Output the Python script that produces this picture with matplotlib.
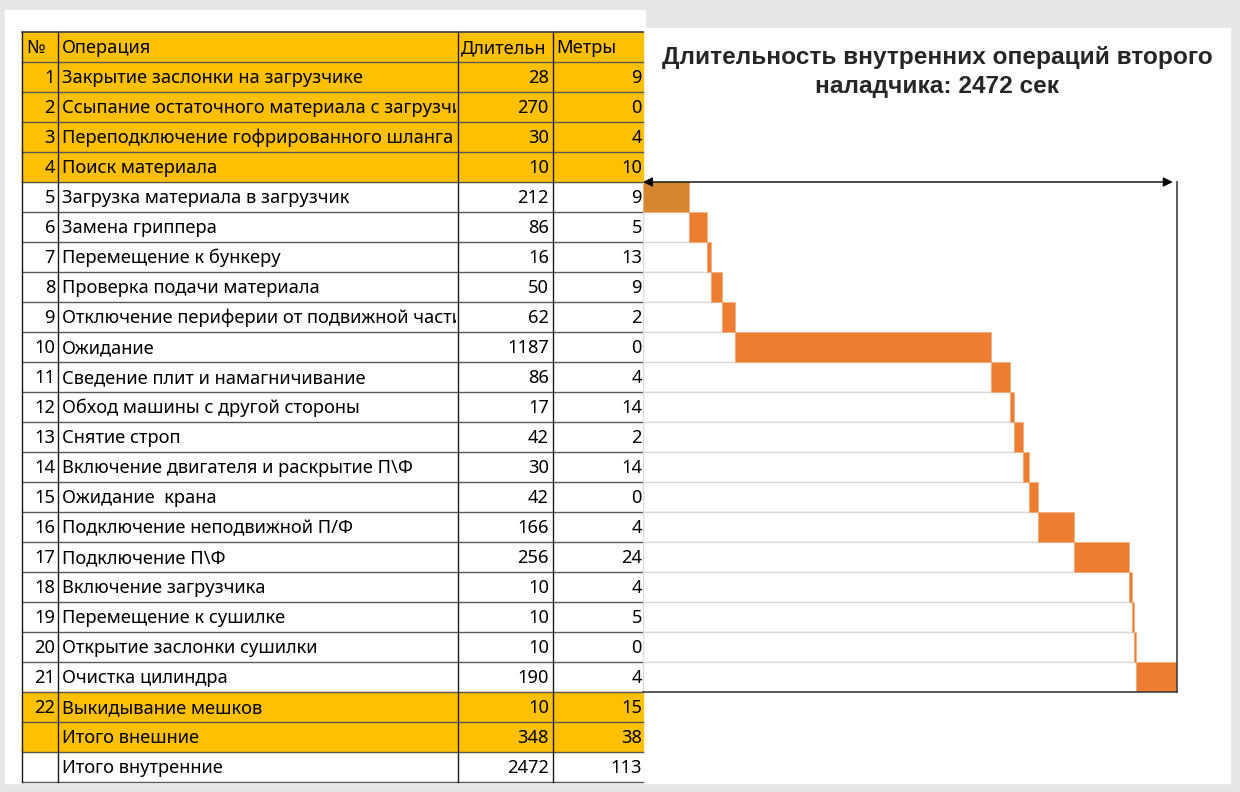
import numpy as np
import matplotlib.pyplot as plt
from matplotlib.patches import Rectangle

# Table data
nums = list(range(1, 23))
operations = [
    'Закрытие заслонки на загрузчике',
    'Ссыпание остаточного материала с загрузчика',
    'Переподключение гофрированного шланга',
    'Поиск материала',
    'Загрузка материала в загрузчик',
    'Замена гриппера',
    'Перемещение к бункеру',
    'Проверка подачи материала',
    'Отключение периферии от подвижной части',
    'Ожидание',
    'Сведение плит и намагничивание',
    'Обход машины с другой стороны',
    'Снятие строп',
    'Включение двигателя и раскрытие П\\Ф',
    'Ожидание  крана',
    'Подключение неподвижной П/Ф',
    'Подключение П\\Ф',
    'Включение загрузчика',
    'Перемещение к сушилке',
    'Открытие заслонки сушилки',
    'Очистка цилиндра',
    'Выкидывание мешков',
]
durations = [28, 270, 30, 10, 212, 86, 16, 50, 62, 1187, 86, 17, 42, 30, 42, 166, 256, 10, 10, 10, 190, 10]
meters = [9, 0, 4, 10, 9, 5, 13, 9, 2, 0, 4, 14, 2, 14, 0, 4, 24, 4, 5, 0, 4, 15]
external = [1, 2, 3, 4, 22]
total_labels = ['Итого внешние', 'Итого внутренние']
total_durations = [348, 2472]
total_meters = [38, 113]
headers = ['№', 'Операция', 'Длительн', 'Метры']
title = 'Длительность внутренних операций второго\nналадчика: 2472 сек'

orange = '#FFC000'
bar_orange = '#ED7D31'

fig = plt.figure(figsize=(12.4, 7.92), dpi=100, facecolor='#e6e6e6')

# full-figure axes in pixel units for the spreadsheet part
ax = fig.add_axes([0, 0, 1, 1])
ax.set_xlim(0, 1240)
ax.set_ylim(792, 0)
ax.axis('off')

ax.add_patch(Rectangle((5, 10), 640, 773, color='white', zorder=0))
ax.add_patch(Rectangle((643, 28), 587, 755, color='white', zorder=0))

font = 'Noto Sans'
fs = 13.2
col_x = [22, 58, 458, 553, 643]
row_top = 32
row_h = 30
n_rows = 1 + len(nums) + len(total_labels)


def row_y(i):
    return row_top + row_h * i + row_h / 2 + 1


# orange fills
fill_rows = [0] + external + [len(nums) + 1]
for r in fill_rows:
    ax.add_patch(Rectangle((col_x[0], row_top + r * row_h), col_x[-1] - col_x[0], row_h,
                           color=orange, zorder=1))

# grid lines
for r in range(n_rows + 1):
    y = row_top + r * row_h
    ax.plot([col_x[0], col_x[-1]], [y, y], color='#3a3a3a' if r == 0 else '#595959',
            lw=1.2 if r == 0 else 1.0, zorder=2)
for x in col_x[:-1]:
    ax.plot([x, x], [row_top, row_top + n_rows * row_h], color='#1a1a1a', lw=1.0, zorder=2)

# long names get cut at the column border like in the spreadsheet
name_clip = Rectangle((col_x[1], 0), col_x[2] - col_x[1] - 2, 792, transform=ax.transData)

# header
ax.text(26, row_y(0), headers[0], fontsize=fs, family=font, va='center', zorder=3)
ax.text(62, row_y(0), headers[1], fontsize=fs, family=font, va='center', zorder=3)
ax.text(461, row_y(0), headers[2], fontsize=fs, family=font, va='center', zorder=3)
ax.text(556, row_y(0), headers[3], fontsize=fs, family=font, va='center', zorder=3)

# body rows
for i, (n, op, d, m) in enumerate(zip(nums, operations, durations, meters)):
    y = row_y(i + 1)
    ax.text(55, y, str(n), fontsize=fs, family=font, va='center', ha='right', zorder=3)
    t = ax.text(62, y, op, fontsize=fs, family=font, va='center', zorder=3, clip_on=True)
    t.set_clip_path(name_clip)
    ax.text(549, y, str(d), fontsize=fs, family=font, va='center', ha='right', zorder=3)
    ax.text(642, y, str(m), fontsize=fs, family=font, va='center', ha='right', zorder=3)

for j, (lab, d, m) in enumerate(zip(total_labels, total_durations, total_meters)):
    y = row_y(len(nums) + 1 + j)
    ax.text(62, y, lab, fontsize=fs, family=font, va='center', zorder=3)
    ax.text(549, y, str(d), fontsize=fs, family=font, va='center', ha='right', zorder=3)
    ax.text(642, y, str(m), fontsize=fs, family=font, va='center', ha='right', zorder=3)

ax.text(937, 72, title, fontsize=17.6, family='Liberation Sans', fontweight='bold',
        ha='center', va='center', color='#262626', linespacing=1.3, zorder=3)

# Gantt chart of internal operations (rows 5..21)
internal = [n for n in nums if n not in external]
int_dur = np.array([durations[n - 1] for n in internal])
starts = np.concatenate([[0], np.cumsum(int_dur)[:-1]])
total = int_dur.sum()

top_px = row_top + row_h * internal[0]
bot_px = row_top + row_h * (internal[-1] + 1)
gx = fig.add_axes([643 / 1240, 1 - bot_px / 792, (1177 - 643) / 1240, (bot_px - top_px) / 792])
gx.patch.set_alpha(0)
gx.barh(internal, starts, height=1.0, color='white', edgecolor='#d9d9d9', lw=1.0)
colors = ['#D5862E'] + [bar_orange] * (len(internal) - 1)
gx.barh(internal, int_dur, left=starts, height=1.0, color=colors, edgecolor='#F2B07E', lw=0.5)
gx.set_xlim(0, total)
gx.set_ylim(internal[-1] + 0.5, internal[0] - 0.5)
gx.set_xticks([])
gx.set_yticks([])
for s in ['left', 'top']:
    gx.spines[s].set_visible(False)
for s in ['right', 'bottom']:
    gx.spines[s].set_color('#404040')
    gx.spines[s].set_linewidth(1.2)

gx.annotate('', xy=(0, internal[0] - 0.5), xytext=(total * 0.992, internal[0] - 0.5),
            arrowprops=dict(arrowstyle='<|-|>', color='black', lw=1.0, mutation_scale=14,
                            shrinkA=0, shrinkB=0),
            annotation_clip=False)

fig.savefig('out.png', dpi=100, facecolor=fig.get_facecolor())
